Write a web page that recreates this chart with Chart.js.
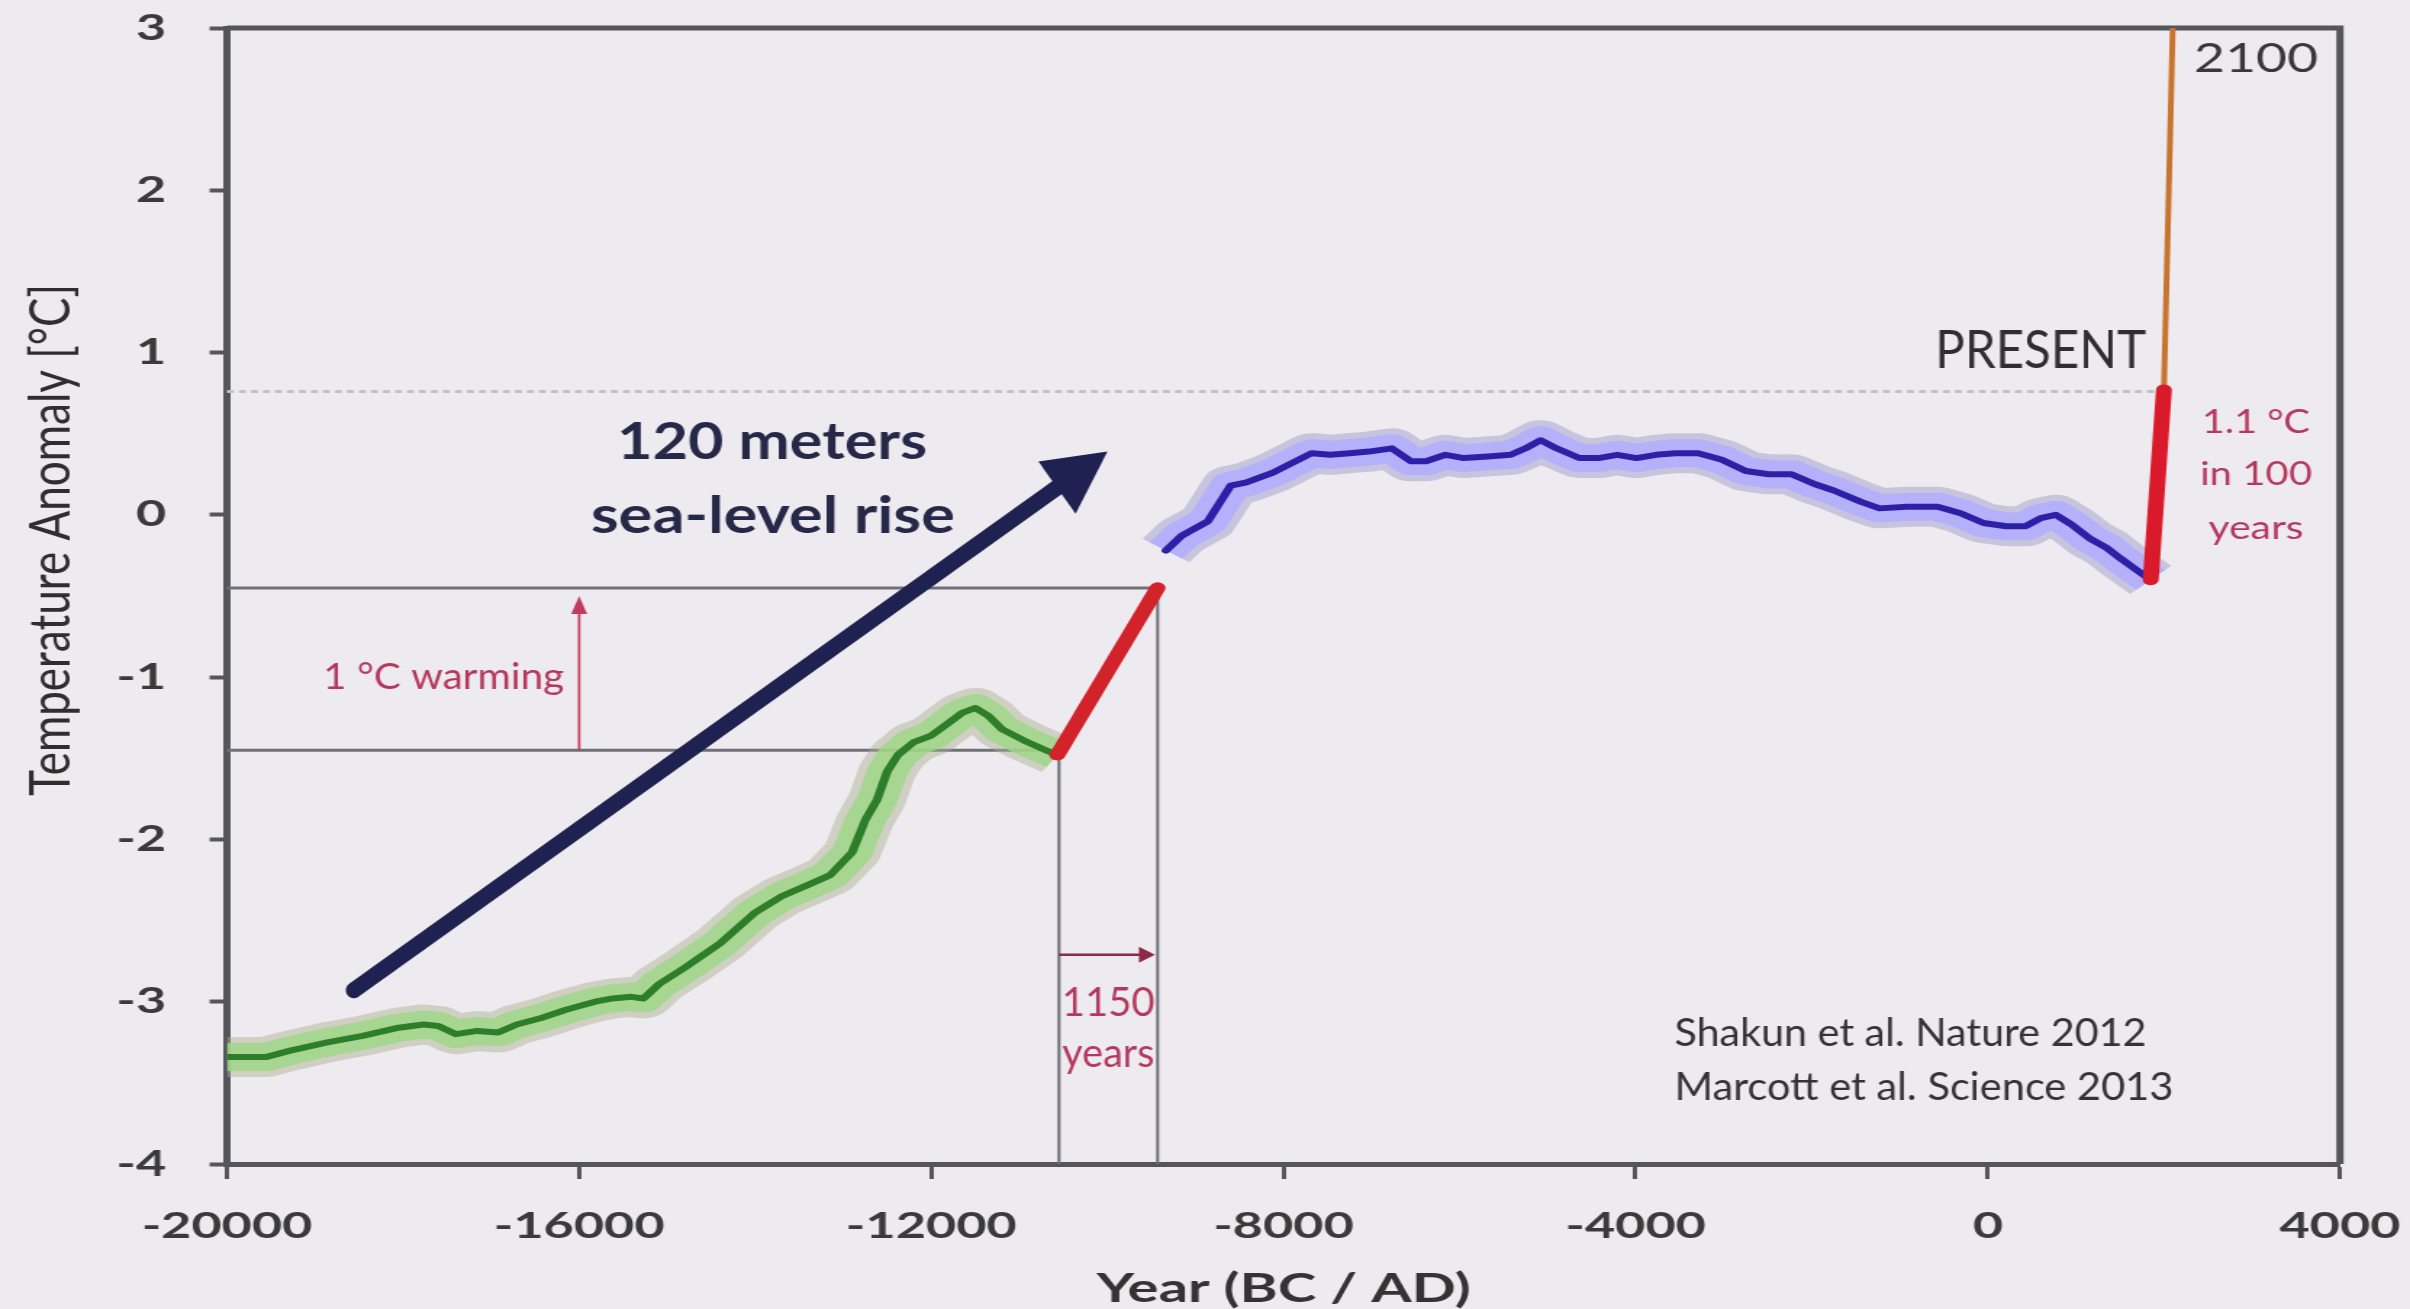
<!DOCTYPE html>
<html>
<head>
<meta charset="utf-8">
<title>Temperature anomaly, last 22,000 years</title>
<script src="https://cdn.jsdelivr.net/npm/chart.js@4.4.1/dist/chart.umd.min.js"></script>
<style>
  html, body { margin: 0; padding: 0; background: #eeebf0; overflow: hidden; }
  #chart { display: block; }
</style>
</head>
<body>
<!-- the slide was drawn narrower and shown stretched, so the canvas is stretched the same way -->
<canvas id="chart" width="1662" height="1309" style="width:2410px;height:1309px"></canvas>
<script>
// Shakun et al. 2012, deglaciation (year, anomaly in °C)
const shakunYears = [-20000, -19550, -19270, -18860, -18460, -18050, -17770, -17600, -17400, -17160,
  -16920, -16710, -16430, -16150, -15820, -15620, -15410, -15270, -15090, -14800,
  -14400, -14000, -13700, -13400, -13150, -12900, -12750, -12620, -12500, -12380,
  -12200, -12000, -11800, -11650, -11500, -11350, -11200, -10950, -10700, -10570,
  -10300, -10000, -9700, -9430];
const shakunTemps = [-3.34, -3.34, -3.30, -3.25, -3.21, -3.16, -3.14, -3.15, -3.20, -3.18,
  -3.19, -3.14, -3.10, -3.05, -3.00, -2.98, -2.97, -2.98, -2.89, -2.79,
  -2.64, -2.45, -2.35, -2.28, -2.22, -2.08, -1.88, -1.76, -1.58, -1.48,
  -1.40, -1.36, -1.28, -1.22, -1.19, -1.24, -1.32, -1.39, -1.45, -1.48,
  -1.20, -0.95, -0.70, -0.45];

// Marcott et al. 2013, Holocene
const marcottYears = [-9335, -9160, -8860, -8600, -8420, -8120, -7900, -7680, -7470, -7250,
  -7030, -6770, -6550, -6380, -6160, -5950, -5680, -5420, -5250, -5080,
  -4900, -4640, -4420, -4210, -3990, -3770, -3550, -3290, -3020, -2750,
  -2490, -2230, -1970, -1750, -1440, -1230, -920, -570, -310, -50,
  210, 430, 600, 770, 950, 1170, 1340, 1510, 1690, 1850];
const marcottTemps = [-0.22, -0.13, -0.04, 0.18, 0.20, 0.26, 0.32, 0.38, 0.37, 0.38,
  0.39, 0.41, 0.33, 0.33, 0.37, 0.35, 0.36, 0.37, 0.41, 0.46,
  0.41, 0.35, 0.35, 0.37, 0.35, 0.37, 0.38, 0.38, 0.34, 0.27,
  0.25, 0.25, 0.19, 0.15, 0.08, 0.04, 0.05, 0.05, 0.01, -0.05,
  -0.07, -0.07, -0.02, 0.00, -0.06, -0.15, -0.20, -0.27, -0.34, -0.40];

// the 1150 year step in red
const stepLineYears = [-10570, -9430];
const stepLineTemps = [-1.48, -0.45];

// instrumental warming and projection to 2100
const modernYears = [1850, 2000];
const modernTemps = [-0.40, 0.77];
const projectionYears = [2000, 2100];
const projectionTemps = [0.77, 3.0];

const yearTicks = [-20000, -16000, -12000, -8000, -4000, 0, 4000];
const tempTicks = [-4, -3, -2, -1, 0, 1, 2, 3];

// reference lines of the annotations
const warmingLevels = [-1.45, -0.45];
const stepYears = [-10550, -9430];
const presentLevel = 0.76;
const presentLineEnd = 1900;

const STRETCH = 2410 / 1662;
// plot frame in screen pixels
const FRAME_LEFT = 227, FRAME_RIGHT = 2340, FRAME_TOP = 28, FRAME_BOTTOM = 1164;
const FONT = 'Lato, "Open Sans", sans-serif';
const NAVY = '#1f2150';
const RED_TEXT = '#b3385c';
const FRAME = '#55555c';

const pairs = (xs, ys) => xs.map((x, i) => ({x: x, y: ys[i]}));

function line(data, color, width, order, cap) {
  return {
    data: data,
    borderColor: color,
    borderWidth: width,
    borderCapStyle: cap || 'round',
    borderJoinStyle: 'round',
    pointRadius: 0,
    fill: false,
    tension: 0,
    clip: 0,
    order: order
  };
}

// data -> unstretched screen pixels (used inside ctx.scale(1 / STRETCH, 1))
function toPx(chart, year, temp) {
  return [chart.scales.x.getPixelForValue(year) * STRETCH, chart.scales.y.getPixelForValue(temp)];
}

function polyline(ctx, pts, color, width, dash) {
  ctx.save();
  ctx.beginPath();
  ctx.moveTo(pts[0][0], pts[0][1]);
  for (let i = 1; i < pts.length; i++) ctx.lineTo(pts[i][0], pts[i][1]);
  ctx.strokeStyle = color;
  ctx.lineWidth = width;
  ctx.setLineDash(dash || []);
  ctx.stroke();
  ctx.restore();
}

function arrow(ctx, from, tip, color, width, headLen, headHalf, cap) {
  const dx = tip[0] - from[0], dy = tip[1] - from[1];
  const d = Math.hypot(dx, dy);
  const ux = dx / d, uy = dy / d;
  const bx = tip[0] - ux * headLen, by = tip[1] - uy * headLen;
  ctx.save();
  ctx.beginPath();
  ctx.moveTo(from[0], from[1]);
  ctx.lineTo(bx + ux * 2, by + uy * 2);
  ctx.strokeStyle = color;
  ctx.lineWidth = width;
  ctx.lineCap = cap || 'butt';
  ctx.stroke();
  ctx.beginPath();
  ctx.moveTo(tip[0], tip[1]);
  ctx.lineTo(bx - uy * headHalf, by + ux * headHalf);
  ctx.lineTo(bx + uy * headHalf, by - ux * headHalf);
  ctx.closePath();
  ctx.fillStyle = color;
  ctx.fill();
  ctx.restore();
}

// text squeezed or widened to the width it has in the picture
function label(ctx, str, x, y, o) {
  ctx.save();
  ctx.translate(x, y);
  if (o.rotate) ctx.rotate(o.rotate);
  ctx.font = o.font;
  ctx.scale(o.width / ctx.measureText(str).width, 1);
  ctx.textAlign = o.align || 'center';
  ctx.textBaseline = 'middle';
  ctx.fillStyle = o.color;
  ctx.fillText(str, 0, 0);
  ctx.restore();
}

const annotations = {
  id: 'annotations',
  beforeDatasetsDraw(chart) {
    const ctx = chart.ctx;
    const a = chart.chartArea;
    const at = (yr, t) => toPx(chart, yr, t);

    // top and right side of the frame
    ctx.save();
    ctx.strokeStyle = FRAME;
    ctx.lineWidth = 5;
    ctx.beginPath();
    ctx.moveTo(a.left, a.top);
    ctx.lineTo(a.right, a.top);
    ctx.lineTo(a.right, a.bottom);
    ctx.stroke();
    ctx.restore();

    ctx.save();
    ctx.scale(1 / STRETCH, 1);
    polyline(ctx, [at(-20000, presentLevel), at(presentLineEnd, presentLevel)], '#c4c0c8', 3, [7, 5]);
    polyline(ctx, [at(-20000, warmingLevels[0]), at(stepYears[0], warmingLevels[0]), at(stepYears[0], -4)], '#707079', 3);
    polyline(ctx, [at(-20000, warmingLevels[1]), at(stepYears[1], warmingLevels[1]), at(stepYears[1], -4)], '#707079', 3);
    ctx.restore();
  },
  afterDatasetsDraw(chart) {
    const ctx = chart.ctx;
    const at = (yr, t) => toPx(chart, yr, t);
    let p;

    ctx.save();
    ctx.scale(1 / STRETCH, 1);

    // big sea-level arrow
    arrow(ctx, at(-18560, -2.93), at(-10000, 0.39), NAVY, 16, 62, 32, 'round');
    // 1 °C warming arrow
    arrow(ctx, at(-16000, warmingLevels[0]), at(-16000, -0.50), '#c23a5e', 2.5, 18, 8);
    // 1150 years arrow
    arrow(ctx, at(stepYears[0], -2.71), at(-9460, -2.71), '#8e2a47', 2.5, 16, 8);

    p = at(-13810, 0.45);
    label(ctx, '120 meters', p[0], p[1], {font: 'bold 52px ' + FONT, color: '#262848', width: 310});
    p = at(-13800, -0.01);
    label(ctx, 'sea-level rise', p[0], p[1], {font: 'bold 52px ' + FONT, color: '#262848', width: 364});

    p = at(1797, 1.01);
    label(ctx, 'PRESENT', p[0], p[1], {font: '52px ' + FONT, color: '#2e2e2e', width: 211, align: 'right'});
    p = at(3046, 2.81);
    label(ctx, '2100', p[0], p[1], {font: '41px ' + FONT, color: '#383838', width: 124});

    p = at(3046, 0.57);
    label(ctx, '1.1 °C', p[0], p[1], {font: '32px ' + FONT, color: RED_TEXT, width: 108});
    p = at(3046, 0.25);
    label(ctx, 'in 100', p[0], p[1], {font: '32px ' + FONT, color: RED_TEXT, width: 112});
    p = at(3046, -0.085);
    label(ctx, 'years', p[0], p[1], {font: '32px ' + FONT, color: RED_TEXT, width: 95});

    p = at(-17540, -1.0);
    label(ctx, '1 °C warming', p[0], p[1], {font: '36px ' + FONT, color: RED_TEXT, width: 241});

    p = at(-9990, -3.01);
    label(ctx, '1150', p[0], p[1], {font: '40px ' + FONT, color: RED_TEXT, width: 93});
    p = at(-9990, -3.32);
    label(ctx, 'years', p[0], p[1], {font: '40px ' + FONT, color: RED_TEXT, width: 92});

    p = at(-3560, -3.20);
    label(ctx, 'Shakun et al. Nature 2012', p[0], p[1], {font: '38px ' + FONT, color: '#333', width: 472, align: 'left'});
    p = at(-3560, -3.53);
    label(ctx, 'Marcott et al. Science 2013', p[0], p[1], {font: '38px ' + FONT, color: '#333', width: 499, align: 'left'});

    // y axis title
    label(ctx, 'Temperature Anomaly [°C]', 51, 540, {font: '56px ' + FONT, color: '#2e2e2e', width: 512, rotate: -Math.PI / 2});

    ctx.restore();
  }
};

const shakun = pairs(shakunYears, shakunTemps);
const marcott = pairs(marcottYears, marcottTemps);
// the uncertainty band of the deglaciation stops where the red step covers the curve
const shakunBand = shakun.filter(p => p.x <= stepLineYears[0]);

new Chart(document.getElementById('chart'), {
  type: 'line',
  data: {
    datasets: [
      line(pairs(modernYears, modernTemps), '#d91a2a', 11, 1),
      line(pairs(projectionYears, projectionTemps), '#c8742e', 4, 2),
      line(pairs(stepLineYears, stepLineTemps), '#d2232b', 11, 3),
      line(marcott, '#2c21a6', 6, 4),
      line(shakun, '#2e7d2a', 6, 5),
      line(marcott, 'rgba(178, 172, 255, 0.85)', 28, 6, 'butt'),
      line(shakunBand, 'rgba(160, 214, 138, 0.85)', 28, 7, 'butt'),
      line(marcott, 'rgba(150, 148, 200, 0.45)', 40, 8, 'butt'),
      line(shakunBand, 'rgba(168, 176, 140, 0.45)', 40, 9, 'butt')
    ]
  },
  options: {
    responsive: false,
    devicePixelRatio: 1,
    animation: false,
    layout: {padding: {top: FRAME_TOP, right: (2410 - FRAME_RIGHT) / STRETCH, left: 0, bottom: 0}},
    plugins: {legend: {display: false}, tooltip: {enabled: false}},
    scales: {
      x: {
        type: 'linear',
        min: -20000,
        max: 4000,
        afterBuildTicks: (s) => { s.ticks = yearTicks.map(v => ({value: v})); },
        afterFit: (s) => {
          s.height = 1309 - FRAME_BOTTOM;
          s.paddingLeft = 0;
          s.paddingRight = 0;
        },
        ticks: {
          font: {family: FONT, size: 36, weight: 'bold'},
          color: '#3a3a3a',
          padding: 26,
          maxRotation: 0,
          autoSkip: false,
          callback: (v) => String(v)
        },
        grid: {drawOnChartArea: false, drawTicks: true, tickLength: 15, tickWidth: 3, tickColor: FRAME},
        border: {display: true, color: FRAME, width: 5},
        title: {
          display: true,
          text: 'Year (BC / AD)',
          color: '#333',
          font: {family: FONT, size: 40, weight: 'bold', lineHeight: 1},
          padding: {top: 0, bottom: 0}
        }
      },
      y: {
        type: 'linear',
        min: -4,
        max: 3,
        afterBuildTicks: (s) => { s.ticks = tempTicks.map(v => ({value: v})); },
        afterFit: (s) => {
          s.width = FRAME_LEFT / STRETCH;
          s.paddingTop = 0;
          s.paddingBottom = 0;
        },
        ticks: {
          font: {family: FONT, size: 36, weight: 'bold'},
          color: '#3a3a3a',
          padding: 30,
          callback: (v) => String(v)
        },
        grid: {drawOnChartArea: false, drawTicks: true, tickLength: 12, tickWidth: 4, tickColor: FRAME},
        border: {display: true, color: FRAME, width: 5}
      }
    }
  },
  plugins: [annotations]
});
</script>
</body>
</html>
